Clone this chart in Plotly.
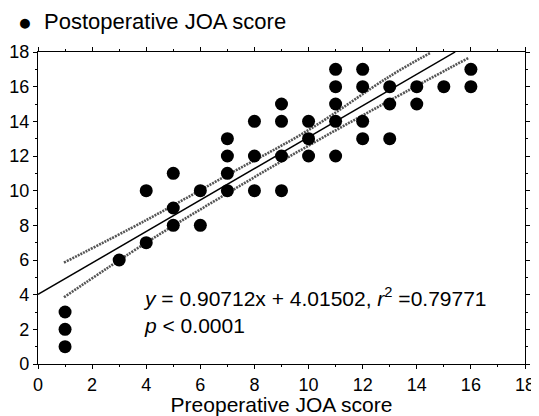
import plotly.graph_objects as go

# Observed data points (Preoperative JOA, Postoperative JOA)
pre_joa = [1, 1, 1, 3, 4, 4, 5, 5, 5, 6, 6, 7, 7, 7, 7, 8, 8, 8, 9, 9, 9, 9,
           10, 10, 10, 11, 11, 11, 11, 11, 12, 12, 12, 12, 13, 13, 13, 14, 14, 15, 16, 16]
post_joa = [1, 2, 3, 6, 10, 7, 11, 9, 8, 10, 8, 13, 12, 11, 10, 14, 12, 10, 15, 14, 12, 10,
            14, 13, 12, 17, 16, 15, 14, 12, 17, 16, 14, 13, 16, 15, 13, 16, 15, 16, 17, 16]
series_name = "Postoperative JOA score"

# Regression
slope = 0.90712
intercept = 4.01502
fit_x = [0, 15.42]
fit_y = [slope * v + intercept for v in fit_x]

# Confidence band
upper_x = [0.96, 4, 7, 10, 13, 14.5]
upper_y = [5.85, 8.3, 10.9, 13.5, 16.6, 17.95]
lower_x = [0.96, 4, 7, 10, 13, 15.9]
lower_y = [3.85, 7.0, 9.85, 12.6, 15.2, 17.65]

x_ticks = [0, 2, 4, 6, 8, 10, 12, 14, 16, 18]
y_ticks = [0, 2, 4, 6, 8, 10, 12, 14, 16, 18]

# The page body has an 8px margin, so the figure is offset by (8, 8)
OFF = 8
W, H = 539 - OFF, 416 - OFF
ML, MR, MT, MB = 38 - OFF, 14, 52 - OFF, 52
PW, PH = W - ML - MR, H - MT - MB

fig = go.Figure()

band_style = dict(color="#555555", width=2.6, dash="2px,1px")
fig.add_trace(go.Scatter(x=upper_x, y=upper_y, mode="lines", line=band_style,
                         line_shape="spline", showlegend=False, hoverinfo="skip"))
fig.add_trace(go.Scatter(x=lower_x, y=lower_y, mode="lines", line=band_style,
                         line_shape="spline", showlegend=False, hoverinfo="skip"))
fig.add_trace(go.Scatter(x=fit_x, y=fit_y, mode="lines", line=dict(color="black", width=1.5),
                         showlegend=False, hoverinfo="skip"))
fig.add_trace(go.Scatter(x=pre_joa, y=post_joa, mode="markers",
                         marker=dict(color="black", size=13),
                         name=series_name, showlegend=False))

axis_common = dict(showgrid=False, zeroline=False, showline=True, linecolor="black",
                   linewidth=1.2, mirror="ticks", ticks="outside", ticklen=4,
                   tickcolor="black", tickfont=dict(size=18, color="black"),
                   automargin=False,
                   minor=dict(ticks="outside", ticklen=2, dtick=1, tickcolor="black"))

fig.update_xaxes(range=[0, 18], tickvals=x_ticks, ticktext=[str(v) for v in x_ticks],
                 title=dict(text="Preoperative JOA score", font=dict(size=21, color="black"), standoff=0),
                 **axis_common)
fig.update_yaxes(range=[0, 18], tickvals=y_ticks, ticktext=[str(v) for v in y_ticks],
                 ticklabelstandoff=0, **axis_common)

fig.add_annotation(x=3.8, y=3.1, xref="x", yref="y", xanchor="left", yanchor="middle",
                   align="left",
                   text="<i>y</i> = 0.90712x + 4.01502, <i>r</i><sup>2</sup> =0.79771"
                        "<br><i>p</i> < 0.0001",
                   showarrow=False, font=dict(size=21, color="black"))

# Legend key (dot + label) above the plot, positions in page pixels
fig.add_annotation(x=(25 - OFF - ML) / PW, y=1 + (MT - (22 - OFF)) / PH, xref="paper", yref="paper",
                   xanchor="center", yanchor="middle", text="●",
                   showarrow=False, font=dict(size=23, color="black"))
fig.add_annotation(x=(42 - OFF - ML) / PW, y=1 + (MT - (22 - OFF)) / PH, xref="paper", yref="paper",
                   xanchor="left", yanchor="middle", text=series_name,
                   showarrow=False, font=dict(size=22, color="black"))

fig.update_layout(
    width=W, height=H,
    margin=dict(l=ML, r=MR, t=MT, b=MB),
    paper_bgcolor="white", plot_bgcolor="white",
    font=dict(family="Liberation Sans, Arial, sans-serif", color="black"),
)

fig.write_html("out.html")
